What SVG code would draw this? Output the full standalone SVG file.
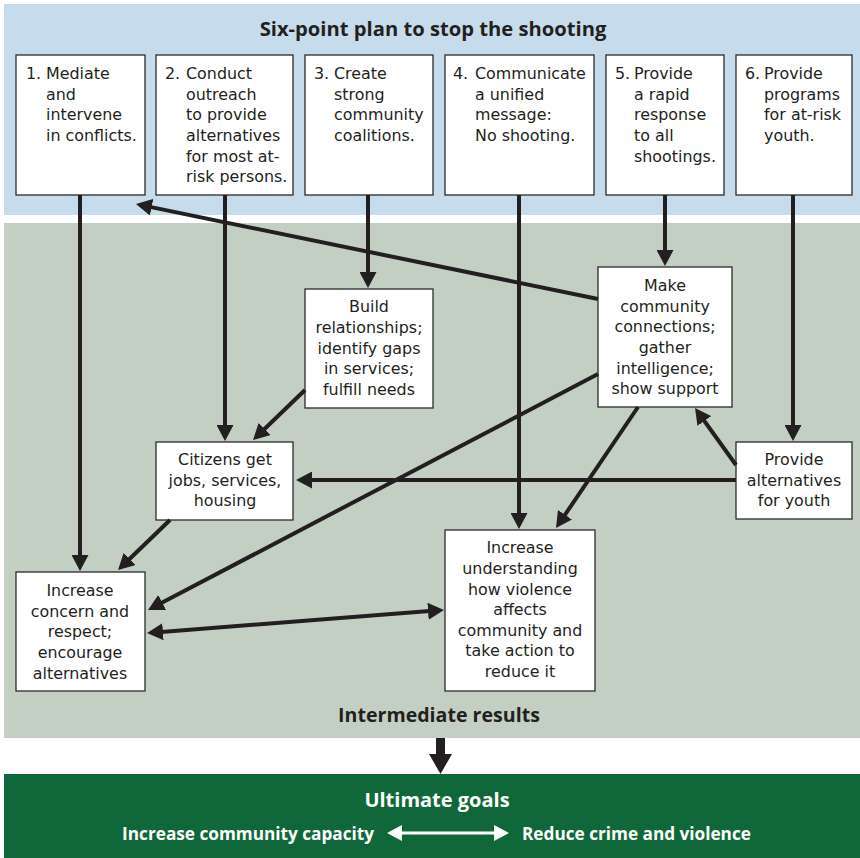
<svg xmlns="http://www.w3.org/2000/svg" width="860" height="858" viewBox="0 0 860 858">
<defs>
<style>
.box{fill:#fff;stroke:#2b2b2b;stroke-width:1.3}
.t{font-family:"DejaVu Sans","Open Sans","Liberation Sans",sans-serif;font-size:15.9px;fill:#231f20}
.c{text-anchor:middle}
.h{font-family:"Open Sans","Noto Sans","Liberation Sans",sans-serif;font-weight:bold;fill:#231f20;text-anchor:middle}
.w{font-family:"Open Sans","Noto Sans","Liberation Sans",sans-serif;font-weight:bold;fill:#fff}
.ln{stroke:#231f20;stroke-width:4;fill:none;marker-end:url(#ah)}
</style>
<marker id="ah" markerUnits="userSpaceOnUse" viewBox="0 0 16 17" refX="8" refY="8.5" markerWidth="16" markerHeight="17" orient="auto-start-reverse">
<path d="M0,0 L16,8.5 L0,17 z" fill="#231f20"/>
</marker>
<marker id="wh" markerUnits="userSpaceOnUse" viewBox="0 0 15 16" refX="7" refY="8" markerWidth="15" markerHeight="16" orient="auto-start-reverse">
<path d="M0,0 L15,8 L0,16 z" fill="#fff"/>
</marker>
</defs>

<g id="panels">
<rect x="4" y="4" width="856" height="211" fill="#c6dcec"/>
<rect x="4" y="223" width="856" height="515" fill="#c3cfc3"/>
<rect x="4" y="774" width="856" height="84" fill="#10683a"/>
<text class="h" x="433" y="36" font-size="20.2">Six-point plan to stop the shooting</text>
<text class="h" x="439" y="722" font-size="19.6">Intermediate results</text>
</g>

<g id="step1">
<rect class="box" x="16" y="55" width="129" height="140"/>
<text class="t" x="26" y="79">1.</text>
<text class="t" x="46" y="79">Mediate</text>
<text class="t" x="46" y="99.7">and</text>
<text class="t" x="46" y="120.4">intervene</text>
<text class="t" x="46" y="141">in conflicts.</text>
</g>
<g id="step2">
<rect class="box" x="156" y="55" width="137" height="140"/>
<text class="t" x="165" y="79">2.</text>
<text class="t" x="186" y="79">Conduct</text>
<text class="t" x="186" y="99.7">outreach</text>
<text class="t" x="186" y="120.4">to provide</text>
<text class="t" x="186" y="141">alternatives</text>
<text class="t" x="186" y="161.7">for most at-</text>
<text class="t" x="186" y="182.4">risk persons.</text>
</g>
<g id="step3">
<rect class="box" x="305" y="55" width="128" height="140"/>
<text class="t" x="314" y="79">3.</text>
<text class="t" x="334" y="79">Create</text>
<text class="t" x="334" y="99.7">strong</text>
<text class="t" x="334" y="120.4">community</text>
<text class="t" x="334" y="141">coalitions.</text>
</g>
<g id="step4">
<rect class="box" x="445" y="55" width="149" height="140"/>
<text class="t" x="453" y="79">4.</text>
<text class="t" x="475" y="79">Communicate</text>
<text class="t" x="475" y="99.7">a unified</text>
<text class="t" x="475" y="120.4">message:</text>
<text class="t" x="475" y="141">No shooting.</text>
</g>
<g id="step5">
<rect class="box" x="606" y="55" width="118" height="140"/>
<text class="t" x="615" y="79">5.</text>
<text class="t" x="634" y="79">Provide</text>
<text class="t" x="634" y="99.7">a rapid</text>
<text class="t" x="634" y="120.4">response</text>
<text class="t" x="634" y="141">to all</text>
<text class="t" x="634" y="161.7">shootings.</text>
</g>
<g id="step6">
<rect class="box" x="736" y="55" width="116" height="140"/>
<text class="t" x="745" y="79">6.</text>
<text class="t" x="764" y="79">Provide</text>
<text class="t" x="764" y="99.7">programs</text>
<text class="t" x="764" y="120.4">for at-risk</text>
<text class="t" x="764" y="141">youth.</text>
</g>

<g id="build">
<rect class="box" x="305" y="289" width="128" height="119"/>
<text class="t c" x="369" y="312">Build</text>
<text class="t c" x="369" y="333">relationships;</text>
<text class="t c" x="369" y="353.5">identify gaps</text>
<text class="t c" x="369" y="374">in services;</text>
<text class="t c" x="369" y="395">fulfill needs</text>
</g>
<g id="connect">
<rect class="box" x="598" y="267" width="134" height="140"/>
<text class="t c" x="665" y="291">Make</text>
<text class="t c" x="665" y="312">community</text>
<text class="t c" x="665" y="332">connections;</text>
<text class="t c" x="665" y="353">gather</text>
<text class="t c" x="665" y="374">intelligence;</text>
<text class="t c" x="665" y="394">show support</text>
</g>
<g id="citizens">
<rect class="box" x="156" y="442" width="137" height="78"/>
<text class="t c" x="225" y="465">Citizens get</text>
<text class="t c" x="225" y="486">jobs, services,</text>
<text class="t c" x="225" y="506">housing</text>
</g>
<g id="youth">
<rect class="box" x="736" y="442" width="116" height="77"/>
<text class="t c" x="794" y="465">Provide</text>
<text class="t c" x="794" y="486">alternatives</text>
<text class="t c" x="794" y="506">for youth</text>
</g>
<g id="concern">
<rect class="box" x="16" y="572" width="129" height="119"/>
<text class="t c" x="80" y="596">Increase</text>
<text class="t c" x="80" y="617">concern and</text>
<text class="t c" x="80" y="637">respect;</text>
<text class="t c" x="80" y="658">encourage</text>
<text class="t c" x="80" y="679">alternatives</text>
</g>
<g id="understanding">
<rect class="box" x="445" y="530" width="150" height="161"/>
<text class="t c" x="520" y="553">Increase</text>
<text class="t c" x="520" y="574">understanding</text>
<text class="t c" x="520" y="595">how violence</text>
<text class="t c" x="520" y="615">affects</text>
<text class="t c" x="520" y="636">community and</text>
<text class="t c" x="520" y="656">take action to</text>
<text class="t c" x="520" y="677">reduce it</text>
</g>

<g id="connectors">
<line class="ln" x1="80" y1="195" x2="80" y2="563"/>
<line class="ln" x1="225" y1="195" x2="225" y2="433"/>
<line class="ln" x1="368" y1="195" x2="368" y2="280"/>
<line class="ln" x1="519" y1="195" x2="519" y2="521"/>
<line class="ln" x1="665" y1="195" x2="665" y2="258"/>
<line class="ln" x1="793" y1="195" x2="793" y2="433"/>
<line class="ln" x1="598" y1="299" x2="143.8" y2="205.6"/>
<line class="ln" x1="305" y1="390" x2="258.8" y2="434.5"/>
<line class="ln" x1="598" y1="374" x2="155.1" y2="606.3"/>
<line class="ln" x1="736" y1="480" x2="304" y2="480"/>
<line class="ln" x1="736" y1="465" x2="699.7" y2="414.5"/>
<line class="ln" x1="638" y1="407" x2="560.5" y2="521.4"/>
<line class="ln" x1="170" y1="520" x2="123.8" y2="564.5"/>
<line class="ln" x1="155" y1="632.4" x2="436" y2="610.6" marker-start="url(#ah)"/>
<rect x="436" y="738" width="9" height="17" fill="#231f20"/>
<path d="M429,754 L452,754 L440.5,774 z" fill="#231f20"/>
</g>

<g id="goals">
<text class="w" x="437" y="807" font-size="20" text-anchor="middle">Ultimate goals</text>
<text class="w" x="374" y="840" font-size="17.2" text-anchor="end">Increase community capacity</text>
<text class="w" x="522" y="840" font-size="17.2">Reduce crime and violence</text>
<line x1="395" y1="833" x2="501" y2="833" stroke="#fff" stroke-width="3" marker-start="url(#wh)" marker-end="url(#wh)"/>
</g>
</svg>
